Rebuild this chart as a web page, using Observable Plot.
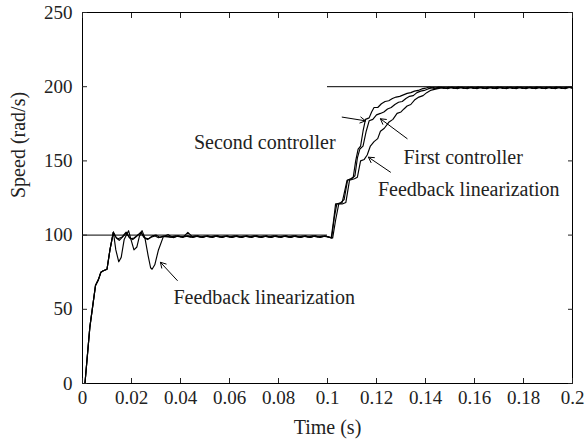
<!DOCTYPE html>
<html>
<head>
<meta charset="utf-8">
<script src="https://cdn.jsdelivr.net/npm/d3@7"></script>
<script src="https://cdn.jsdelivr.net/npm/@observablehq/plot@0.6"></script>
<style>
  html, body { margin: 0; padding: 0; background: #fff; }
  #chart svg { font-family: "Liberation Serif", serif; }
</style>
</head>
<body>
<div id="chart"></div>
<script>
// ---- Data (time in s, speed in rad/s) ----
const xTicks = [0, 0.02, 0.04, 0.06, 0.08, 0.1, 0.12, 0.14, 0.16, 0.18, 0.2];
const yTicks = [0, 50, 100, 150, 200, 250];

// reference speed (two segments)
const reference = [
  {t1: 0, t2: 0.1, v: 100},
  {t1: 0.1, t2: 0.2, v: 200}
];

// common start-up (all three controllers)
const startup = [
  [0, 0], [0.001, 0], [0.003, 38], [0.0053, 66], [0.0065, 70], [0.0075, 75],
  [0.0085, 76], [0.010, 77], [0.0112, 90], [0.0126, 102]
];

// Second controller
const secondLow = [
  [0.0138, 98], [0.015, 96.5], [0.0165, 99], [0.018, 101.5], [0.0195, 97.5],
  [0.021, 98], [0.0225, 100], [0.024, 101.5], [0.0255, 98], [0.027, 97.5],
  [0.0285, 99.5], [0.030, 100], [0.0315, 98.5], [0.033, 99],
  [0.035, 99], [0.037, 98.5], [0.039, 99.4], [0.041, 98.6], [0.043, 99.5],
  [0.045, 98.5], [0.047, 99.3], [0.049, 98.5], [0.051, 99.4], [0.053, 98.6],
  [0.055, 99.5], [0.057, 98.5], [0.059, 99.4], [0.061, 98.5], [0.063, 99.3],
  [0.065, 98.5], [0.067, 99.4], [0.069, 98.6], [0.071, 99.5], [0.073, 98.5],
  [0.075, 99.3], [0.077, 98.5], [0.079, 99.4], [0.081, 98.6], [0.083, 99.5],
  [0.085, 98.5], [0.087, 99.4], [0.089, 98.5], [0.091, 99.3], [0.093, 98.5],
  [0.095, 99.4], [0.097, 98.6], [0.099, 99.2], [0.1, 99]
];
const secondStep = [
  [0.1015, 98], [0.1025, 110], [0.1033, 121], [0.1045, 121], [0.106, 122],
  [0.108, 137], [0.1095, 138], [0.1105, 139], [0.1115, 150], [0.1125, 158],
  [0.1135, 160], [0.1145, 170], [0.1155, 178], [0.117, 179], [0.118, 183],
  [0.119, 186], [0.1205, 186], [0.122, 188.5], [0.1235, 190], [0.125, 190.5],
  [0.1265, 192], [0.128, 193], [0.1295, 193.5], [0.131, 194.5], [0.1325, 195.5],
  [0.134, 196], [0.1355, 197], [0.137, 197.5], [0.1385, 198.5], [0.140, 199],
  [0.1415, 199.8]
];
const secondHigh = [
  [0.1435, 198.9], [0.1455, 199.7], [0.1475, 198.9], [0.1495, 199.6], [0.1515, 198.9],
  [0.1535, 199.7], [0.1555, 198.9], [0.1575, 199.6], [0.1595, 198.9], [0.1615, 199.7],
  [0.1635, 198.9], [0.1655, 199.6], [0.1675, 198.9], [0.1695, 199.7], [0.1715, 198.9],
  [0.1735, 199.6], [0.1755, 198.9], [0.1775, 199.7], [0.1795, 198.9], [0.1815, 199.6],
  [0.1835, 198.9], [0.1855, 199.7], [0.1875, 198.9], [0.1895, 199.6], [0.1915, 198.9],
  [0.1935, 199.7], [0.1955, 198.9], [0.1975, 199.6], [0.2, 199.2]
];

// First controller
const firstLow = [
  [0.0135, 99], [0.0145, 97.5], [0.016, 98.5], [0.0178, 102], [0.019, 98.5],
  [0.0205, 97], [0.022, 99], [0.0238, 102], [0.025, 98.5], [0.0265, 97],
  [0.028, 98.5], [0.0295, 99.5], [0.031, 98.2], [0.033, 99.3],
  [0.036, 98.6], [0.038, 99.5], [0.040, 98.7], [0.042, 99.4], [0.044, 98.6],
  [0.046, 99.5], [0.048, 98.6], [0.050, 99.4], [0.052, 98.6], [0.054, 99.5],
  [0.056, 98.6], [0.058, 99.4], [0.060, 98.6], [0.062, 99.5], [0.064, 98.6],
  [0.066, 99.4], [0.068, 98.6], [0.070, 99.5], [0.072, 98.6], [0.074, 99.4],
  [0.076, 98.6], [0.078, 99.5], [0.080, 98.6], [0.082, 99.4], [0.084, 98.6],
  [0.086, 99.5], [0.088, 98.6], [0.090, 99.4], [0.092, 98.6], [0.094, 99.5],
  [0.096, 98.6], [0.098, 99.4], [0.1, 98.8]
];
const firstStep = [
  [0.1017, 98], [0.1028, 112], [0.1038, 121], [0.1055, 122], [0.1068, 124],
  [0.1082, 137], [0.1098, 138], [0.1112, 140], [0.1122, 152], [0.1132, 158],
  [0.1145, 160], [0.1158, 170], [0.117, 177], [0.1185, 178], [0.120, 181],
  [0.1216, 182], [0.123, 183], [0.1245, 185], [0.126, 186], [0.1275, 188],
  [0.129, 189.5], [0.1305, 190], [0.132, 192], [0.1335, 193.5], [0.135, 194],
  [0.1365, 196], [0.138, 197], [0.1395, 197.5], [0.141, 198.5], [0.1433, 199.5]
];
const firstHigh = [
  [0.1445, 198.8], [0.1465, 199.6], [0.1485, 198.8], [0.1505, 199.6], [0.1525, 198.8],
  [0.1545, 199.6], [0.1565, 198.8], [0.1585, 199.6], [0.1605, 198.8], [0.1625, 199.6],
  [0.1645, 198.8], [0.1665, 199.6], [0.1685, 198.8], [0.1705, 199.6], [0.1725, 198.8],
  [0.1745, 199.6], [0.1765, 198.8], [0.1785, 199.6], [0.1805, 198.8], [0.1825, 199.6],
  [0.1845, 198.8], [0.1865, 199.6], [0.1885, 198.8], [0.1905, 199.6], [0.1925, 198.8],
  [0.1945, 199.6], [0.1965, 198.8], [0.1985, 199.6], [0.2, 199.2]
];

// Feedback linearization
const fbLow = [
  [0.0136, 90], [0.0148, 82], [0.0158, 85], [0.017, 97], [0.0188, 103],
  [0.0198, 97], [0.021, 90], [0.0222, 92], [0.0232, 99], [0.0243, 103],
  [0.0255, 98], [0.0268, 86], [0.0278, 78], [0.0284, 77], [0.0295, 80],
  [0.031, 90], [0.033, 99], [0.035, 100.3], [0.037, 98.3], [0.039, 99.5],
  [0.041, 98.5], [0.043, 101.8], [0.045, 98.6], [0.047, 99.6], [0.049, 98.4],
  [0.051, 99.6], [0.053, 98.4], [0.055, 99.6], [0.057, 98.4], [0.059, 99.6],
  [0.061, 98.4], [0.063, 99.6], [0.065, 98.4], [0.067, 99.6], [0.069, 98.4],
  [0.071, 99.6], [0.073, 98.4], [0.075, 99.6], [0.077, 98.4], [0.079, 99.6],
  [0.081, 98.4], [0.083, 99.6], [0.085, 98.4], [0.087, 99.6], [0.089, 98.4],
  [0.091, 99.6], [0.093, 98.4], [0.095, 99.6], [0.097, 98.4], [0.099, 99.5], [0.1, 99]
];
const fbStep = [
  [0.1021, 98], [0.1033, 110], [0.1046, 121], [0.106, 121], [0.1075, 122],
  [0.109, 137], [0.111, 138], [0.1122, 139], [0.1135, 150], [0.115, 151],
  [0.1162, 154], [0.1175, 160], [0.119, 163], [0.1205, 165], [0.1216, 170],
  [0.1232, 172], [0.125, 176], [0.1267, 178], [0.1284, 182], [0.130, 183],
  [0.1312, 185], [0.1325, 187], [0.134, 188], [0.1355, 191], [0.1373, 193],
  [0.139, 194], [0.1405, 196], [0.142, 197.5], [0.1445, 198.5], [0.1475, 199.5]
];
const fbHigh = [
  [0.149, 198.7], [0.151, 199.6], [0.153, 198.7], [0.155, 199.6], [0.157, 198.7],
  [0.159, 199.6], [0.161, 198.7], [0.163, 199.6], [0.165, 198.7], [0.167, 199.6],
  [0.169, 198.7], [0.171, 199.6], [0.173, 198.7], [0.175, 199.6], [0.177, 198.7],
  [0.179, 199.6], [0.181, 198.7], [0.183, 199.6], [0.185, 198.7], [0.187, 199.6],
  [0.189, 198.7], [0.191, 199.6], [0.193, 198.7], [0.195, 199.6], [0.197, 198.7],
  [0.199, 199.6], [0.2, 199]
];

// annotation labels and arrows (data coordinates)
const labels = [
  {text: "Second controller", t: 0.1033, v: 162, anchor: "end"},
  {text: "First controller", t: 0.131, v: 152, anchor: "start"},
  {text: "Feedback linearization", t: 0.1206, v: 131, anchor: "start"},
  {text: "Feedback linearization", t: 0.0371, v: 58, anchor: "start"}
];
const arrows = [
  {t1: 0.106, v1: 179.5, t2: 0.1155, v2: 177},
  {t1: 0.1325, v1: 165, t2: 0.1216, v2: 178.4},
  {t1: 0.1257, v1: 142.4, t2: 0.1167, v2: 152.5},
  {t1: 0.0387, v1: 69.4, t2: 0.0318, v2: 81.7}
];

// ---- Build series ----
const toRows = (name, parts) => parts.flat().map(([t, v]) => ({name, t, v}));
const series = [
  ...toRows("Second controller", [startup, secondLow, secondStep, secondHigh]),
  ...toRows("First controller", [startup, firstLow, firstStep, firstHigh]),
  ...toRows("Feedback linearization", [startup, fbLow, fbStep, fbHigh])
];

const fsTick = 19;
const fsTitle = 20;
const fsLabel = 20;
const ink = "#222";
const chart = Plot.plot({
  width: 586,
  height: 443,
  marginLeft: 82,
  marginRight: 14,
  marginTop: 12,
  marginBottom: 60,
  style: {fontFamily: "Liberation Serif, serif", fontSize: fsTick + "px", color: ink, background: "#fff"},
  x: {domain: [0, 0.2], label: null},
  y: {domain: [0, 250], label: null},
  marks: [
    Plot.ruleY(reference, {y: "v", x1: "t1", x2: "t2", stroke: "black", strokeWidth: 1}),
    Plot.line(series, {x: "t", y: "v", z: "name", stroke: "black", strokeWidth: 1.15, strokeLinejoin: "round"}),
    Plot.frame({stroke: "black", strokeWidth: 1}),
    // inward ticks
    Plot.axisX(xTicks, {anchor: "bottom", tickSize: -5, tickFormat: () => "", label: null}),
    Plot.axisX(xTicks, {anchor: "top", tickSize: -5, tickFormat: () => "", label: null}),
    Plot.axisY(yTicks, {anchor: "left", tickSize: -5, tickFormat: () => "", label: null}),
    Plot.axisY(yTicks, {anchor: "right", tickSize: -5, tickFormat: () => "", label: null}),
    // tick labels
    Plot.axisX(xTicks, {anchor: "bottom", tickSize: 0, tickPadding: 7, tickFormat: d => d3.format("~g")(d), label: null, fontSize: fsTick, fill: ink}),
    Plot.axisY(yTicks, {anchor: "left", tickSize: 0, tickPadding: 10, label: null, fontSize: fsTick, fill: ink}),
    // axis titles
    Plot.text(["Time (s)"], {frameAnchor: "bottom", dy: 50, fontSize: fsTitle, fill: ink}),
    Plot.text(["Speed (rad/s)"], {frameAnchor: "left", dx: -64, rotate: -90, fontSize: fsTitle, fill: ink}),
    // annotations
    Plot.text(labels, {filter: d => d.anchor === "end", x: "t", y: "v", text: "text", textAnchor: "end", fontSize: fsLabel, fill: ink}),
    Plot.text(labels, {filter: d => d.anchor === "start", x: "t", y: "v", text: "text", textAnchor: "start", fontSize: fsLabel, fill: ink}),
    Plot.arrow(arrows, {x1: "t1", y1: "v1", x2: "t2", y2: "v2", stroke: "black", strokeWidth: 1, headLength: 9})
  ]
});
document.getElementById("chart").appendChild(chart);
</script>
</body>
</html>
